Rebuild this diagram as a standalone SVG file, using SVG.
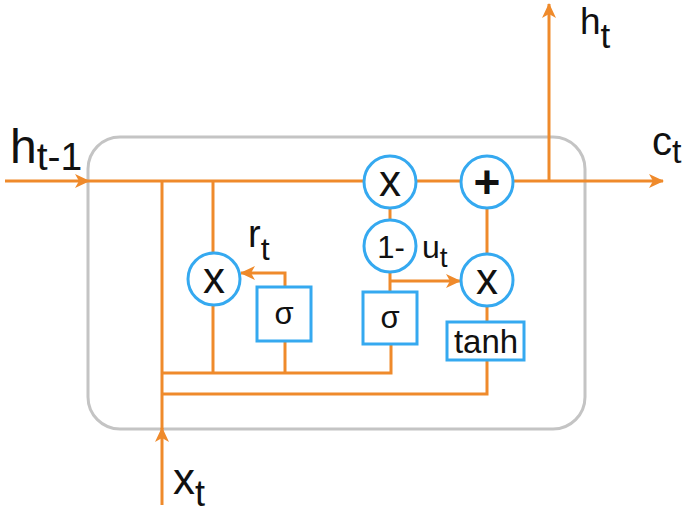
<svg xmlns="http://www.w3.org/2000/svg" width="693" height="513" viewBox="0 0 693 513">
<style>
.cell{fill:none;stroke:#c4c4c4;stroke-width:3}
.w{fill:none;stroke:#ef8a2b;stroke-width:3;stroke-linecap:butt;stroke-linejoin:miter}
.op{fill:#fff;stroke:#35a9f0;stroke-width:3}
.t{font-family:"Liberation Sans",Arial,sans-serif;fill:#111}
.c{text-anchor:middle}
</style>
<defs>
<marker id="arr" markerUnits="userSpaceOnUse" markerWidth="16" markerHeight="14" refX="14" refY="7" orient="auto">
<path d="M0,0 L15,7 L0,14 L4,7 Z" fill="#ef8a2b"/>
</marker>
</defs>
<rect class="cell" x="88" y="137" width="497" height="292" rx="32"/>
<g id="connectors">
<line class="w" x1="5" y1="181" x2="89" y2="181" marker-end="url(#arr)"/>
<line class="w" x1="89" y1="181" x2="364" y2="181"/>
<line class="w" x1="416" y1="181" x2="461" y2="181"/>
<line class="w" x1="513" y1="181" x2="663" y2="181" marker-end="url(#arr)"/>
<line class="w" x1="549" y1="181" x2="549" y2="4" marker-end="url(#arr)"/>
<line class="w" x1="162" y1="181" x2="162" y2="429"/>
<line class="w" x1="162" y1="505" x2="162" y2="428" marker-end="url(#arr)"/>
<line class="w" x1="213" y1="181" x2="213" y2="253"/>
<polyline class="w" points="213,304 213,373"/>
<polyline class="w" points="162,373 391,373 391,343"/>
<line class="w" x1="285" y1="373" x2="285" y2="341"/>
<polyline class="w" points="285,287 285,273 241,273" marker-end="url(#arr)"/>
<polyline class="w" points="162,394 487,394 487,360"/>
<line class="w" x1="487" y1="322" x2="487" y2="306"/>
<line class="w" x1="487" y1="254" x2="487" y2="207"/>
<line class="w" x1="390" y1="207" x2="390" y2="220"/>
<line class="w" x1="390" y1="272" x2="390" y2="292"/>
<line class="w" x1="390" y1="281" x2="460" y2="281" marker-end="url(#arr)"/>
</g>
<g id="mul_r">
<circle class="op" cx="214" cy="279" r="26"/>
<text class="t c" x="214" y="293" font-size="44">x</text>
</g>
<g id="sigma_r">
<rect class="op" x="257" y="287" width="54" height="54"/>
<text class="t c" x="284" y="324" font-size="31">σ</text>
</g>
<g id="mul_top">
<circle class="op" cx="390" cy="182" r="26"/>
<text class="t c" x="390" y="196" font-size="44">x</text>
</g>
<g id="add">
<circle class="op" cx="487" cy="182" r="26"/>
<text class="t c" x="487" y="198" font-size="46" font-weight="bold">+</text>
</g>
<g id="one_minus">
<circle class="op" cx="390" cy="246" r="26"/>
<text class="t c" x="391" y="258" font-size="31">1-</text>
</g>
<g id="sigma_u">
<rect class="op" x="363" y="292" width="54" height="52"/>
<text class="t c" x="390" y="328" font-size="31">σ</text>
</g>
<g id="mul_u">
<circle class="op" cx="487" cy="280" r="26"/>
<text class="t c" x="487" y="294" font-size="44">x</text>
</g>
<g id="tanh">
<rect class="op" x="447" y="322" width="77" height="38"/>
<text class="t c" x="486" y="353" font-size="33">tanh</text>
</g>
<g id="labels">
<text class="t" x="10" y="163" font-size="48">h<tspan font-size="39" dy="7">t-1</tspan></text>
<text class="t" x="580" y="34" font-size="37">h<tspan font-size="35" dy="14">t</tspan></text>
<text class="t" x="652" y="155" font-size="40">c<tspan font-size="34" dy="8">t</tspan></text>
<text class="t" x="173" y="494" font-size="44">x<tspan font-size="36" dy="12">t</tspan></text>
<text class="t" x="248" y="247" font-size="38">r<tspan font-size="32" dy="13">t</tspan></text>
<text class="t" x="422" y="258" font-size="32">u<tspan font-size="28" dy="9">t</tspan></text>
</g>
</svg>
